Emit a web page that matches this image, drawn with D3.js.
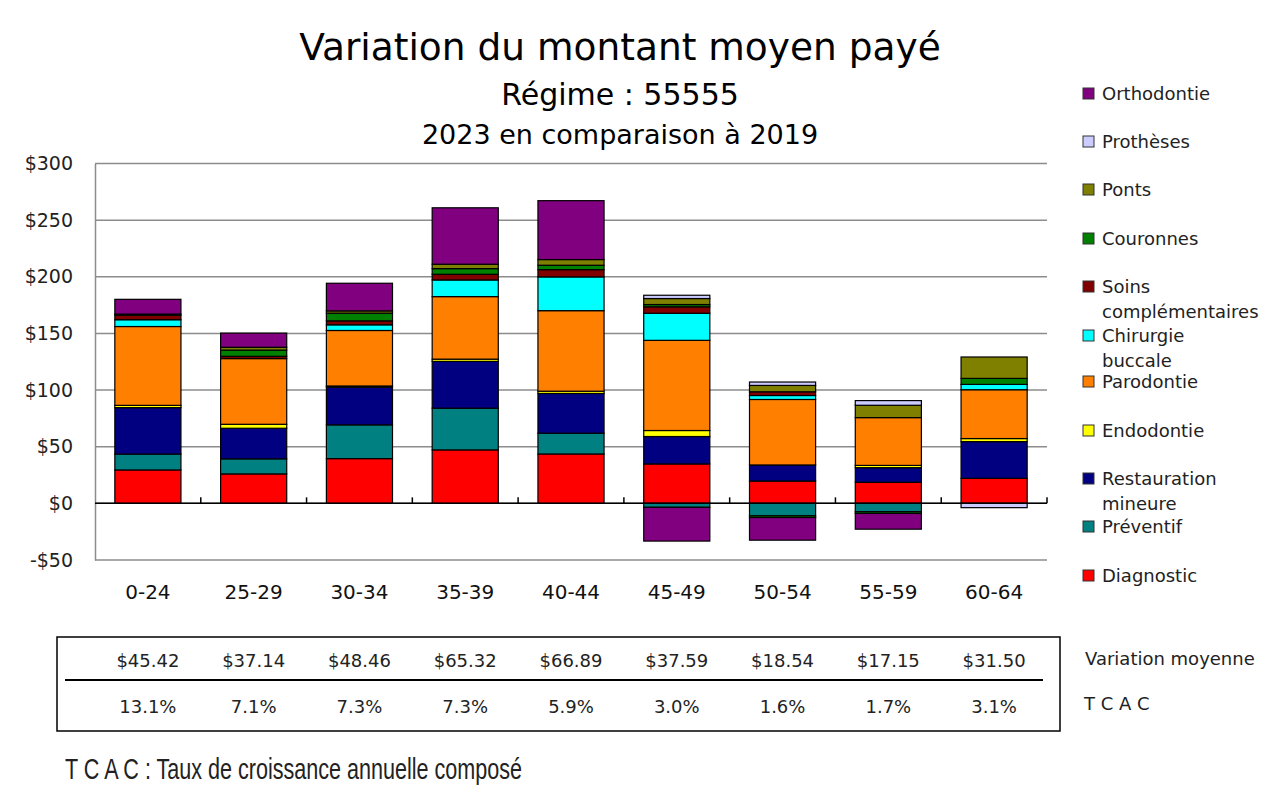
<!DOCTYPE html>
<html>
<head>
<meta charset="utf-8">
<script src="https://cdn.jsdelivr.net/npm/d3@7"></script>
<style>
  body { margin: 0; background: #fff; }
  text { font-family: "DejaVu Sans", Verdana, sans-serif; }
  .narrow { font-family: "Liberation Sans", Arial, sans-serif; }
</style>
</head>
<body>
<div id="chart"></div>
<script>
// categories (age groups)
var groupes = ["0-24", "25-29", "30-34", "35-39", "40-44", "45-49", "50-54", "55-59", "60-64"];

// series, bottom of stack first
var series = ["Diagnostic", "Préventif", "Restauration mineure", "Endodontie", "Parodontie",
  "Chirurgie buccale", "Soins complémentaires", "Couronnes", "Ponts", "Prothèses", "Orthodontie"];
var couleurs = ["#ff0000", "#008080", "#000080", "#ffff00", "#ff8000",
  "#00ffff", "#800000", "#008000", "#808000", "#ccccff", "#800080"];

// values per series (one per age group)
var diagnostic   = [29.5, 26.0, 39.5, 47.2, 43.6, 34.8, 19.7, 18.6, 22.1];
var preventif    = [14.0, 13.3, 29.8, 36.8, 18.3, -3.5, -11.0, -7.4, 0.0];
var restauration = [41.0, 27.0, 33.3, 41.3, 35.1, 24.2, 14.2, 12.9, 32.4];
var endodontie   = [2.0, 3.5, 1.0, 2.0, 2.0, 5.3, 0.0, 2.0, 2.7];
var parodontie   = [69.6, 58.0, 49.0, 55.2, 71.1, 79.6, 57.8, 42.2, 43.1];
var chirurgie    = [6.0, 0.0, 5.0, 14.7, 29.8, 23.9, 3.5, 0.0, 4.7];
var soins        = [4.0, 2.0, 3.5, 5.0, 6.4, 5.7, 3.3, 0.0, 0.0];
var couronnes    = [1.0, 5.5, 6.8, 5.0, 3.9, 2.0, -1.5, -1.5, 5.3];
var ponts        = [0.0, 2.5, 2.0, 3.9, 5.0, 5.3, 5.6, 10.9, 18.9];
var protheses    = [0.0, 0.0, 0.0, 0.0, 0.0, 2.9, 3.0, 4.1, -3.8];
var orthodontie  = [13.0, 12.5, 24.4, 49.8, 52.0, -29.8, -20.0, -13.9, 0.0];

var valeurs = [diagnostic, preventif, restauration, endodontie, parodontie,
  chirurgie, soins, couronnes, ponts, protheses, orthodontie];

// table below the chart
var variationMoyenne = ["$45.42", "$37.14", "$48.46", "$65.32", "$66.89", "$37.59", "$18.54", "$17.15", "$31.50"];
var tcac = ["13.1%", "7.1%", "7.3%", "7.3%", "5.9%", "3.0%", "1.6%", "1.7%", "3.1%"];

// legend order (top to bottom) and line breaks
var legendeOrdre = ["Orthodontie", "Prothèses", "Ponts", "Couronnes", "Soins complémentaires",
  "Chirurgie buccale", "Parodontie", "Endodontie", "Restauration mineure", "Préventif", "Diagnostic"];
var legendeLignes = {
  "Soins complémentaires": ["Soins", "complémentaires"],
  "Chirurgie buccale": ["Chirurgie", "buccale"],
  "Restauration mineure": ["Restauration", "mineure"]
};

var yTicks = [-50, 0, 50, 100, 150, 200, 250, 300];

var W = 1280, H = 795;
var plot = {left: 95, right: 1047, top: 163.5, bottom: 560};

var svg = d3.select("#chart").append("svg")
  .attr("width", W).attr("height", H);

// rows for the stack
var rows = groupes.map(function(g, i) {
  var r = {groupe: g};
  series.forEach(function(s, k) { r[s] = valeurs[k][i]; });
  return r;
});

var stack = d3.stack().keys(series).offset(d3.stackOffsetDiverging);
var stacked = stack(rows);

var x = d3.scaleBand().domain(groupes).range([plot.left, plot.right]).paddingInner(0.375).paddingOuter(0.1875);
var xb = d3.scaleBand().domain(groupes).range([plot.left, plot.right]);
var y = d3.scaleLinear().domain([-50, 300]).range([plot.bottom, plot.top]);
var color = d3.scaleOrdinal().domain(series).range(couleurs);

// titles
svg.append("text").attr("x", 620).attr("y", 60).attr("text-anchor", "middle")
  .style("font-size", "37.5px").text("Variation du montant moyen payé");
svg.append("text").attr("x", 620).attr("y", 105).attr("text-anchor", "middle")
  .style("font-size", "30px").text("Régime : 55555");
svg.append("text").attr("x", 620).attr("y", 144).attr("text-anchor", "middle")
  .style("font-size", "27px").text("2023 en comparaison à 2019");

// grid lines
svg.append("g").selectAll("line").data(yTicks).enter().append("line")
  .attr("x1", plot.left).attr("x2", plot.right)
  .attr("y1", function(d) { return y(d); }).attr("y2", function(d) { return y(d); })
  .style("stroke", "#8c8c8c").style("stroke-width", 1.5);

// y axis
var yAxis = svg.append("g").attr("transform", "translate(" + plot.left + ",0)")
  .attr("font-size", 19).attr("font-family", "DejaVu Sans")
  .call(d3.axisLeft(y).tickValues(yTicks).tickSize(0).tickPadding(22)
    .tickFormat(function(d) { return (d < 0 ? "-$" : "$") + Math.abs(d); }));
yAxis.select(".domain").style("stroke", "#8c8c8c").style("stroke-width", 1.5);
yAxis.selectAll("text").style("font-size", "19px").style("fill", "#222");

// bars
svg.append("g").selectAll("g").data(stacked).enter().append("g")
  .style("fill", function(d) { return color(d.key); })
  .selectAll("rect").data(function(d) { return d; }).enter().append("rect")
  .filter(function(d) { return d[1] !== d[0]; })
  .attr("x", function(d) { return x(d.data.groupe); })
  .attr("width", x.bandwidth())
  .attr("y", function(d) { return y(Math.max(d[0], d[1])); })
  .attr("height", function(d) { return Math.abs(y(d[0]) - y(d[1])); })
  .style("stroke", "#000").style("stroke-width", 1.2);

// zero line and ticks between categories
svg.append("line").attr("x1", plot.left).attr("x2", plot.right)
  .attr("y1", y(0)).attr("y2", y(0)).style("stroke", "#000").style("stroke-width", 1.5);
svg.append("g").selectAll("line").data(groupes).enter().append("line")
  .attr("x1", function(d) { return xb(d) + xb.bandwidth(); })
  .attr("x2", function(d) { return xb(d) + xb.bandwidth(); })
  .attr("y1", y(0) - 6).attr("y2", y(0))
  .style("stroke", "#000").style("stroke-width", 1.5);

// x labels
svg.append("g").selectAll("text").data(groupes).enter().append("text")
  .attr("x", function(d) { return xb(d) + xb.bandwidth() / 2; })
  .attr("y", 599).attr("text-anchor", "middle")
  .style("font-size", "20px").style("fill", "#111").text(function(d) { return d; });

// legend
var leg = svg.append("g");
var ly = [100, 148, 196, 245, 293, 342, 388, 437, 485, 533, 582];
legendeOrdre.forEach(function(s, i) {
  leg.append("rect").attr("x", 1083).attr("y", ly[i] - 12).attr("width", 11).attr("height", 11)
    .style("fill", color(s)).style("stroke", "#333").style("stroke-width", 1);
  var lines = legendeLignes[s] || [s];
  lines.forEach(function(t, j) {
    leg.append("text").attr("x", 1102).attr("y", ly[i] + j * 25)
      .style("font-size", "18px").style("fill", "#222").text(t);
  });
});

// table
svg.append("rect").attr("x", 57).attr("y", 637).attr("width", 1003).attr("height", 94)
  .style("fill", "none").style("stroke", "#000").style("stroke-width", 1.5);
svg.append("line").attr("x1", 65).attr("x2", 1043).attr("y1", 680).attr("y2", 680)
  .style("stroke", "#000").style("stroke-width", 1.8);
svg.append("g").selectAll("text").data(variationMoyenne).enter().append("text")
  .attr("x", function(d, i) { return xb(groupes[i]) + xb.bandwidth() / 2; })
  .attr("y", 667).attr("text-anchor", "middle")
  .style("font-size", "18px").style("fill", "#222").text(function(d) { return d; });
svg.append("g").selectAll("text").data(tcac).enter().append("text")
  .attr("x", function(d, i) { return xb(groupes[i]) + xb.bandwidth() / 2; })
  .attr("y", 713).attr("text-anchor", "middle")
  .style("font-size", "18px").style("fill", "#222").text(function(d) { return d; });
svg.append("text").attr("x", 1085).attr("y", 665)
  .style("font-size", "18px").style("fill", "#222").text("Variation moyenne");
svg.append("text").attr("x", 1084).attr("y", 710)
  .style("font-size", "18px").style("fill", "#222").text("T C A C");

svg.append("text").attr("class", "narrow").attr("x", 65).attr("y", 779)
  .attr("textLength", 457).attr("lengthAdjust", "spacingAndGlyphs")
  .style("font-size", "30px").style("fill", "#222")
  .text("T C A C : Taux de croissance annuelle composé");
</script>
</body>
</html>
